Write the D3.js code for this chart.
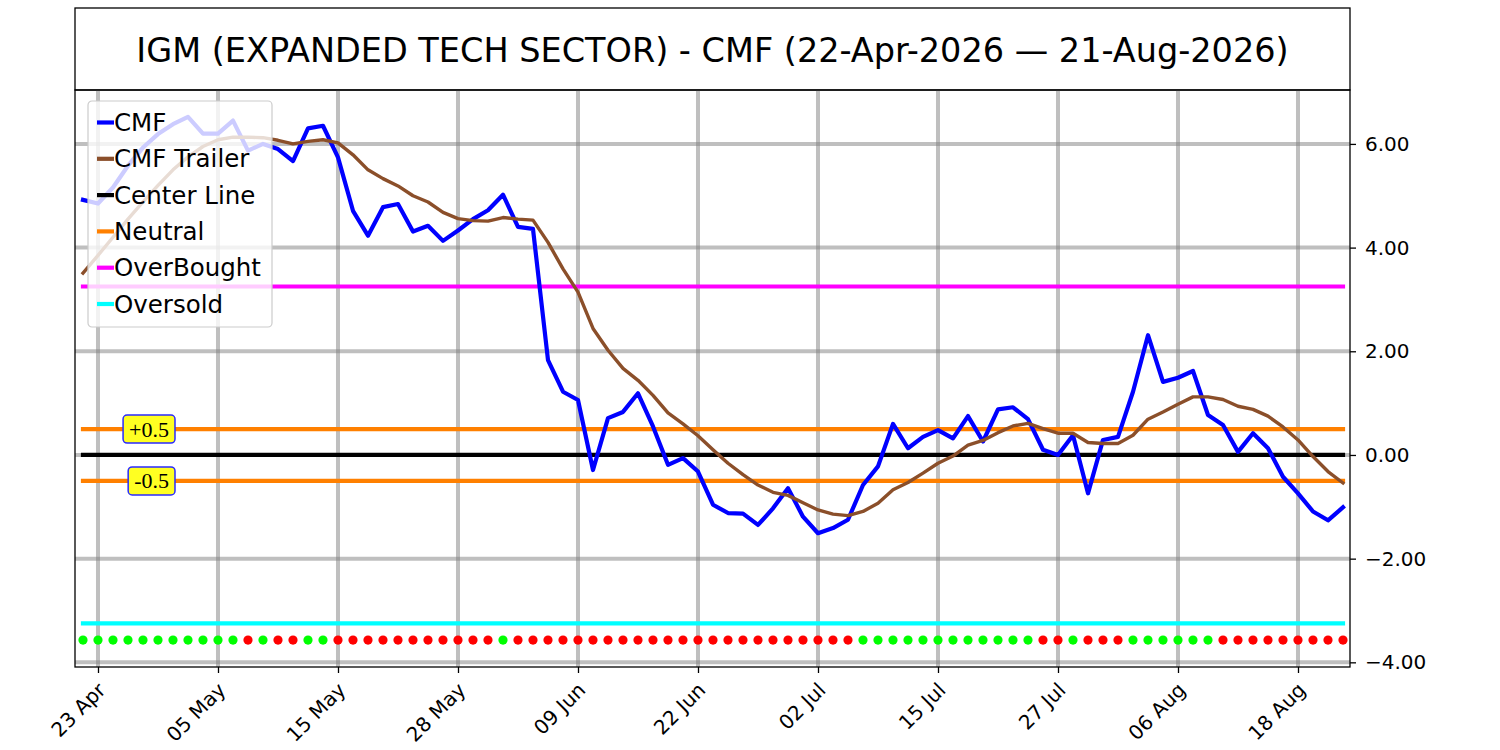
<!DOCTYPE html>
<html>
<head>
<meta charset="utf-8">
<script src="https://cdn.jsdelivr.net/npm/d3@7"></script>
<style>
  body { margin: 0; background: #fff; }
  svg { font-family: "DejaVu Sans", sans-serif; }
</style>
</head>
<body>
<svg id="chart" width="1500" height="750"></svg>
<script>
// chart values, one per trading day from 22-Apr-2026 to 21-Aug-2026
var cmf = [4.92, 4.85, 5.16, 5.58, 5.93, 6.19, 6.38, 6.52, 6.2, 6.2,
  6.45, 5.87, 6.0, 5.9, 5.67, 6.3, 6.35, 5.74, 4.71, 4.23,
  4.78, 4.84, 4.31, 4.42, 4.13, 4.33, 4.55, 4.72, 5.02, 4.40,
  4.36, 1.83, 1.22, 1.06, -0.29, 0.71, 0.83, 1.19, 0.55, -0.19,
  -0.06, -0.32, -0.96, -1.12, -1.13, -1.35, -1.03, -0.64, -1.19, -1.51,
  -1.41, -1.25, -0.58, -0.22, 0.60, 0.13, 0.35, 0.48, 0.32, 0.75,
  0.26, 0.88, 0.92, 0.69, 0.10, 0.0, 0.38, -0.74, 0.29, 0.35,
  1.22, 2.31, 1.41, 1.49, 1.62, 0.77, 0.58, 0.06, 0.42, 0.13,
  -0.42, -0.74, -1.09, -1.26, -1.01];

var trailer = [3.51, 3.85, 4.2, 4.55, 4.88, 5.2, 5.5, 5.75, 5.95, 6.08,
  6.13, 6.13, 6.12, 6.07, 6.0, 6.05, 6.08, 6.02, 5.79, 5.5,
  5.33, 5.19, 5.0, 4.88, 4.68, 4.56, 4.52, 4.51, 4.58, 4.55,
  4.53, 4.10, 3.59, 3.14, 2.44, 2.02, 1.67, 1.44, 1.15, 0.81,
  0.60, 0.37, 0.10, -0.16, -0.38, -0.58, -0.72, -0.78, -0.92, -1.06,
  -1.14, -1.17, -1.09, -0.93, -0.67, -0.53, -0.35, -0.16, -0.02, 0.19,
  0.28, 0.43, 0.56, 0.61, 0.51, 0.42, 0.42, 0.24, 0.22, 0.22,
  0.38, 0.69, 0.83, 0.98, 1.12, 1.12, 1.07, 0.94, 0.88, 0.75,
  0.54, 0.29, -0.03, -0.32, -0.54];

// 1 = green dot, 0 = red dot
var signal = [1,1,1,1,1,1,1,1,1,1, 1,0,1,0,0,1,1,0,0,0,
  0,0,0,0,0,0,0,0,1,0, 0,0,0,0,0,0,0,0,0,0,
  0,0,0,0,0,0,0,0,0,0, 0,0,1,1,1,1,1,1,1,1,
  1,1,1,1,0,0,1,0,0,0, 1,1,1,1,1,1,0,0,0,0,
  0,0,0,0,0];
var signalLevel = -3.57;

var tickLabels = ["23 Apr", "05 May", "15 May", "28 May", "09 Jun", "22 Jun",
  "02 Jul", "15 Jul", "27 Jul", "06 Aug", "18 Aug"];
var tickIndex = [1, 9, 17, 25, 33, 41, 49, 57, 65, 73, 81];
var yTicks = [-4, -2, 0, 2, 4, 6];

var levelNames = ["Center Line", "Neutral", "Neutral", "OverBought", "Oversold"];
var levelValues = [0, 0.5, -0.5, 3.25, -3.25];
var levelColors = ["#000000", "#ff8000", "#ff8000", "#ff00ff", "#00ffff"];

var legendNames = ["CMF", "CMF Trailer", "Center Line", "Neutral", "OverBought", "Oversold"];
var legendColors = ["#0000ff", "#8b4f2a", "#000000", "#ff8000", "#ff00ff", "#00ffff"];

var noteTexts = ["+0.5", "-0.5"];
var noteValues = [0.5, -0.5];

var title = "IGM (EXPANDED TECH SECTOR) - CMF (22-Apr-2026 \u2014 21-Aug-2026)";

// layout
var svg = d3.select("#chart");
var pLeft = 75, pRight = 1350, pTop = 90, pBottom = 667;

var x = d3.scaleLinear().domain([-0.533, 84.467]).range([pLeft, pRight]);
var y = d3.scaleLinear().domain([-4.09, 7.04]).range([pBottom, pTop]);
var n = cmf.length;
var idx = d3.range(n);

// title box
svg.append("rect")
  .attr("x", pLeft).attr("y", 8)
  .attr("width", pRight - pLeft).attr("height", pTop - 8)
  .attr("fill", "none").attr("stroke", "#000").attr("stroke-width", 1.3);
svg.append("text")
  .attr("x", (pLeft + pRight) / 2).attr("y", 50)
  .attr("text-anchor", "middle").attr("dominant-baseline", "central")
  .style("font-size", "33.5px")
  .text(title);

var g = svg.append("g");

// grid
g.selectAll(".vgrid").data(tickIndex).enter().append("line")
  .attr("x1", function(d){ return x(d) }).attr("x2", function(d){ return x(d) })
  .attr("y1", pTop).attr("y2", pBottom)
  .attr("stroke", "#808080").attr("stroke-opacity", 0.5).attr("stroke-width", 4);
g.selectAll(".hgrid").data(yTicks).enter().append("line")
  .attr("x1", pLeft).attr("x2", pRight)
  .attr("y1", function(d){ return y(d) }).attr("y2", function(d){ return y(d) })
  .attr("stroke", "#808080").attr("stroke-opacity", 0.5).attr("stroke-width", 4);

// level lines
g.selectAll(".level").data(levelValues).enter().append("line")
  .attr("x1", x(0)).attr("x2", x(n - 1))
  .attr("y1", function(d){ return y(d) }).attr("y2", function(d){ return y(d) })
  .attr("stroke", function(d, i){ return levelColors[i] })
  .attr("stroke-width", 4.2)
  .attr("stroke-linecap", "square");

// series
var line = d3.line()
  .x(function(d){ return x(d) });

g.append("path")
  .attr("d", line.y(function(d){ return y(cmf[d]) })(idx))
  .attr("fill", "none").attr("stroke", "#0000ff")
  .attr("stroke-width", 4.2).attr("stroke-linejoin", "round").attr("stroke-linecap", "square");

g.append("path")
  .attr("d", line.y(function(d){ return y(trailer[d]) })(idx))
  .attr("fill", "none").attr("stroke", "#8b4f2a")
  .attr("stroke-width", 3.4).attr("stroke-linejoin", "round").attr("stroke-linecap", "square");

// signal dots
g.selectAll(".dot").data(signal).enter().append("circle")
  .attr("cx", function(d, i){ return x(i) })
  .attr("cy", y(signalLevel))
  .attr("r", 4.6)
  .attr("fill", function(d){ return d ? "#00ff00" : "#ff0000" });

// +0.5 / -0.5 notes
var notes = g.selectAll(".note").data(noteValues).enter().append("g");
notes.each(function(d, i){
  var nt = d3.select(this);
  var t = nt.append("text")
    .attr("x", x(6) - 4).attr("y", y(d))
    .attr("text-anchor", "end").attr("dominant-baseline", "central")
    .style("font-family", "'Liberation Serif', serif").style("font-size", "22px")
    .text(noteTexts[i]);
  var b = t.node().getBBox();
  nt.insert("rect", "text")
    .attr("x", b.x - 6).attr("y", y(d) - 14)
    .attr("width", b.width + 12).attr("height", 28)
    .attr("rx", 4)
    .attr("fill", "#ffff22").attr("stroke", "#2a2aff").attr("stroke-width", 1.5);
});

// axes
var yAxis = svg.append("g")
  .attr("transform", "translate(" + pRight + ",0)")
  .call(d3.axisRight(y).tickValues(yTicks).tickFormat(d3.format(".2f")).tickSize(6).tickPadding(9));
yAxis.select(".domain").remove();
yAxis.selectAll("text").style("font-size", "20px").style("font-family", "'DejaVu Sans'").attr("fill", "#000");
yAxis.selectAll("line").attr("stroke", "#000").attr("stroke-width", 1.3);

var xAxis = svg.append("g")
  .attr("transform", "translate(0," + pBottom + ")")
  .call(d3.axisBottom(x).tickValues(tickIndex)
    .tickFormat(function(d, i){ return tickLabels[i] }).tickSize(6));
xAxis.select(".domain").remove();
xAxis.selectAll("line").attr("stroke", "#000").attr("stroke-width", 1.3);
xAxis.selectAll("text")
  .style("font-size", "20px").style("font-family", "'DejaVu Sans'").attr("fill", "#000")
  .attr("text-anchor", "end")
  .attr("y", 0).attr("dy", "0.73em")
  .attr("transform", "translate(-2,14) rotate(-45)");

// plot frame
svg.append("rect")
  .attr("x", pLeft).attr("y", pTop)
  .attr("width", pRight - pLeft).attr("height", pBottom - pTop)
  .attr("fill", "none").attr("stroke", "#000").attr("stroke-width", 1.3);

// legend
var lg = svg.append("g").attr("transform", "translate(88,101)");
lg.append("rect")
  .attr("width", 184).attr("height", 226).attr("rx", 4)
  .attr("fill", "#fff").attr("fill-opacity", 0.8)
  .attr("stroke", "#cccccc").attr("stroke-width", 1.2);
var rows = lg.selectAll(".row").data(legendNames).enter().append("g")
  .attr("transform", function(d, i){ return "translate(0," + (21.5 + i * 36.3) + ")" });
rows.append("line")
  .attr("x1", 9).attr("x2", 26)
  .attr("stroke", function(d, i){ return legendColors[i] })
  .attr("stroke-width", 4.2);
rows.append("text")
  .attr("x", 26).attr("dominant-baseline", "central")
  .style("font-size", "24.5px")
  .text(function(d){ return d });
</script>
</body>
</html>
